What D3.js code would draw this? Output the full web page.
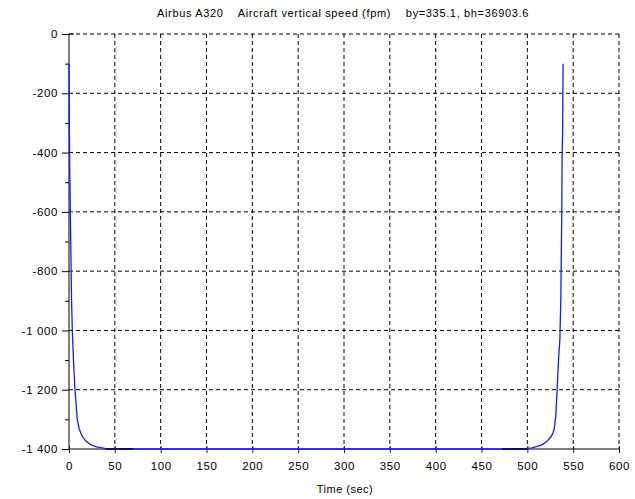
<!DOCTYPE html>
<html><head><meta charset="utf-8">
<script src="https://cdn.jsdelivr.net/npm/d3@7"></script>
<style>
html,body{margin:0;padding:0;background:#fff;}
svg{display:block;font-family:"Liberation Sans",Arial,sans-serif;}
</style></head>
<body>
<svg id="chart" width="635" height="499"></svg>
<script>
const titleText = "Airbus A320    Aircraft vertical speed (fpm)    by=335.1, bh=36903.6";
const xLabel = "Time (sec)";
const xTicks = [0,50,100,150,200,250,300,350,400,450,500,550,600];
const yTicks = [0,-200,-400,-600,-800,-1000,-1200,-1400];
const yMinorTicks = [-100,-300,-500,-700,-900,-1100,-1300];
// vertical speed curve (sec, fpm)
const timeSec = [0,0.3,0.8,1.5,2.8,3.6,4.5,5.5,6.5,8,9,11,13,15,17.5,20,24,30,39,50,60,70,
  150,250,350,450,480,500,505,510,515,518,522,526,528,529.5,531,532.5,534,535.5,536.5,537.5,538,538.5,539];
const vSpeed = [-100,-250,-450,-620,-900,-1000,-1070,-1140,-1200,-1260,-1300,-1330,-1348,-1360,-1370,-1377,-1386,-1393,-1398,-1399,-1400,-1400,
  -1400,-1400,-1400,-1400,-1400,-1398,-1396,-1392,-1387,-1382,-1372,-1358,-1345,-1330,-1290,-1200,-1100,-1030,-900,-620,-400,-330,-100];
// short dark overlay segments
const darkSegTime = [[40,70],[473,500]];
const darkSegV = [[-1400,-1400],[-1400,-1400]];

const svg = d3.select("#chart");
const x = d3.scaleLinear().domain([0,600]).range([69,619]);
const y = d3.scaleLinear().domain([-1400,0]).range([449,34]);
const loc = d3.formatLocale({decimal:".",thousands:"\u2009",grouping:[3],currency:["",""],minus:"-"});
const fmtY = d => loc.format(",")(d).replace("\u2009"," ");

// grid
const g = svg.append("g");
g.selectAll(".vg").data(xTicks.filter(d=>d>0)).join("line")
  .attr("x1",d=>x(d)).attr("x2",d=>x(d)).attr("y1",y(0)).attr("y2",y(-1400))
  .attr("stroke","#000").attr("stroke-width",1).attr("stroke-dasharray","4,3");
g.selectAll(".hg").data(yTicks.filter(d=>d>-1400)).join("line")
  .attr("x1",x(0)).attr("x2",x(600)).attr("y1",d=>y(d)).attr("y2",d=>y(d))
  .attr("stroke","#000").attr("stroke-width",1).attr("stroke-dasharray","4,3");

// axes
const yAxis = d3.axisLeft(y).tickValues(yTicks).tickSize(7).tickPadding(4).tickFormat(fmtY);
const ya = svg.append("g").attr("transform",`translate(${x(0)},0)`).call(yAxis);
ya.select(".domain").attr("stroke","#000").attr("d",`M0,${y(0)}V${y(-1400)}`);
ya.selectAll("text").attr("font-size","11.5px").attr("fill","#000").attr("font-family","Liberation Sans, Arial, sans-serif").attr("letter-spacing","0.6px");
ya.selectAll(".tick line").attr("stroke","#000");
svg.append("g").attr("transform",`translate(${x(0)},0)`)
  .call(d3.axisLeft(y).tickValues(yMinorTicks).tickSize(4).tickFormat(""))
  .call(s=>s.select(".domain").remove());
// small top tick to the right
svg.append("line").attr("x1",x(0)).attr("x2",x(0)+5).attr("y1",y(0)).attr("y2",y(0)).attr("stroke","#000");

const xAxis = d3.axisBottom(x).tickValues(xTicks).tickSize(4).tickPadding(9);
const xa = svg.append("g").attr("transform",`translate(0,${y(-1400)})`).call(xAxis);
xa.select(".domain").attr("stroke","#555").attr("stroke-width",1.5).attr("d",`M${x(0)},0H${x(600)}`);
xa.selectAll(".tick line").attr("stroke","#222").attr("y1",-3);
xa.selectAll("text").attr("font-size","11.5px").attr("fill","#000").attr("font-family","Liberation Sans, Arial, sans-serif").attr("letter-spacing","0.6px");

// curve
const pts = timeSec.map((t,i)=>[t,vSpeed[i]]);
const line = d3.line().x(d=>x(d[0])).y(d=>y(d[1]));
svg.append("path").datum(pts).attr("d",line).attr("fill","none")
  .attr("stroke","#1a1aff").attr("stroke-width",1.3);
darkSegTime.forEach((ts,i)=>{
  svg.append("path").datum(ts.map((t,j)=>[t,darkSegV[i][j]])).attr("d",line)
    .attr("fill","none").attr("stroke","#101060").attr("stroke-width",2);
});

// titles
svg.append("text").attr("x",343).attr("y",17).attr("text-anchor","middle")
  .attr("font-size","11px").attr("letter-spacing","0.65px").style("white-space","pre")
  .text(titleText);
svg.append("text").attr("x",345).attr("y",493).attr("text-anchor","middle")
  .attr("font-size","11px").attr("letter-spacing","0.5px").text(xLabel);
</script>
</body></html>
